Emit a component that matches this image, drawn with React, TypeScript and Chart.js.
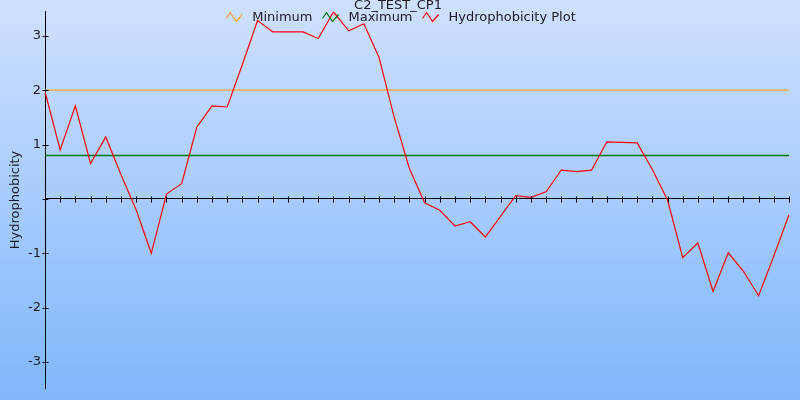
import React, { useEffect, useRef } from "react";
import { Chart, registerables } from "chart.js";

Chart.register(...registerables);

// ---- data ----
const chartTitle = "C2_TEST_CP1";
const yAxisTitle = "Hydrophobicity";

const positions = [
  "1", "2", "3", "4", "5", "6", "7", "8", "9", "10",
  "11", "12", "13", "14", "15", "16", "17", "18", "19", "20",
  "21", "22", "23", "24", "25", "26", "27", "28", "29", "30",
  "31", "32", "33", "34", "35", "36", "37", "38", "39", "40",
  "41", "42", "43", "44", "45", "46", "47", "48", "49", "50",
];

const hydrophobicity = [
  1.97, 0.9, 1.71, 0.65, 1.14, 0.45, -0.2, -1.0, 0.09, 0.28,
  1.32, 1.71, 1.69, 2.47, 3.28, 3.07, 3.07, 3.07, 2.95, 3.44,
  3.09, 3.22, 2.6, 1.5, 0.56, -0.07, -0.21, -0.5, -0.42, -0.7,
  -0.32, 0.06, 0.03, 0.13, 0.53, 0.5, 0.53, 1.05, 1.04, 1.03,
  0.54, -0.02, -1.08, -0.81, -1.7, -0.99, -1.33, -1.78, -1.05, -0.29,
];

const minimumLevel = 2.0;
const maximumLevel = 0.8;

const yTickValues = [-3, -2, -1, 0, 1, 2, 3];
const yMin = -3.48;
const yMax = 3.44;

const FONT = "'DejaVu Sans', Verdana, sans-serif";
const TEXT_COLOR = "#1c1c1c";

const backgroundPlugin = {
  id: "gradientBackground",
  beforeDraw(chart: any) {
    const { ctx, width, height } = chart;
    const g = ctx.createLinearGradient(0, 0, 0, height);
    g.addColorStop(0, "#cfe0ff");
    g.addColorStop(1, "#7fb7fa");
    ctx.save();
    ctx.fillStyle = g;
    ctx.fillRect(0, 0, width, height);
    ctx.restore();
  },
};

const crossTicksPlugin = {
  id: "crossTicks",
  afterDatasetsDraw(chart: any) {
    const xs = chart.scales.x;
    const ys = chart.scales.y;
    const ctx = chart.ctx;
    ctx.save();
    ctx.strokeStyle = "#000";
    ctx.lineWidth = 1;
    const y0 = Math.round(ys.getPixelForValue(0)) + 0.5;
    const x0 = Math.round(xs.left) + 0.5;
    ctx.beginPath();
    positions.forEach((_, i) => {
      const px = Math.round(xs.getPixelForValue(i)) + 0.5;
      ctx.moveTo(px, y0 - 3);
      ctx.lineTo(px, y0 + 3);
    });
    ys.ticks.forEach((t: any) => {
      const py = Math.round(ys.getPixelForValue(t.value)) + 0.5;
      ctx.moveTo(x0 - 3, py);
      ctx.lineTo(x0 + 3, py);
    });
    ctx.stroke();
    ctx.restore();
  },
};

const headerPlugin = {
  id: "headerLegend",
  afterDraw(chart: any) {
    const ctx = chart.ctx;
    ctx.save();
    ctx.fillStyle = TEXT_COLOR;
    ctx.font = `13px ${FONT}`;
    ctx.textAlign = "center";
    ctx.textBaseline = "middle";
    ctx.fillText(chartTitle, 398, 5.5);

    const items = chart.data.datasets.map((ds: any) => ({
      label: ds.label,
      color: ds.borderColor,
    }));
    const iconW = 16;
    const iconGap = 10;
    const itemGap = 10;
    const widths = items.map((it: any) => ctx.measureText(it.label).width);
    const total =
      widths.reduce((a: number, w: number) => a + iconW + iconGap + w, 0) +
      itemGap * (items.length - 1);
    let xx = 401 - total / 2;
    const cy = 17.5;
    items.forEach((it: any, i: number) => {
      ctx.strokeStyle = it.color;
      ctx.lineWidth = 1.2;
      ctx.beginPath();
      ctx.moveTo(xx, cy + 1);
      ctx.lineTo(xx + 4, cy - 5);
      ctx.lineTo(xx + 10, cy + 4);
      ctx.lineTo(xx + 16, cy - 3);
      ctx.stroke();
      ctx.textAlign = "left";
      ctx.fillStyle = TEXT_COLOR;
      ctx.fillText(it.label, xx + iconW + iconGap, cy);
      xx += iconW + iconGap + widths[i] + itemGap;
    });
    ctx.restore();
  },
};

export default function App() {
  const canvasRef = useRef<HTMLCanvasElement | null>(null);

  useEffect(() => {
    document.body.style.margin = "0";
    const canvas = canvasRef.current;
    if (!canvas) return;
    const chart = new Chart(canvas, {
      type: "line",
      data: {
        labels: positions,
        datasets: [
          {
            label: "Minimum",
            data: positions.map(() => minimumLevel),
            borderColor: "#f5a623",
            borderWidth: 1.2,
            pointRadius: 0,
            order: 2,
          },
          {
            label: "Maximum",
            data: positions.map(() => maximumLevel),
            borderColor: "#007a00",
            borderWidth: 1.5,
            pointRadius: 0,
            order: 1,
          },
          {
            label: "Hydrophobicity Plot",
            data: hydrophobicity,
            borderColor: "#ff0000",
            borderWidth: 1.2,
            pointRadius: 0,
            order: 0,
          },
        ],
      },
      options: {
        responsive: false,
        animation: false,
        layout: { padding: { top: 10, right: 11, bottom: 11, left: 0 } },
        plugins: {
          legend: { display: false },
          title: { display: false },
          tooltip: { enabled: false },
        },
        elements: { line: { tension: 0 } },
        scales: {
          x: {
            type: "category",
            position: { y: 0 } as any,
            offset: false,
            ticks: { display: false },
            grid: { drawOnChartArea: false, drawTicks: false },
            border: { color: "#000", width: 1 },
          },
          y: {
            type: "linear",
            min: yMin,
            max: yMax,
            afterFit: (s: any) => {
              s.width = 45;
            },
            afterBuildTicks: (s: any) => {
              s.ticks = yTickValues.map((v) => ({ value: v }));
            },
            ticks: {
              callback: (v: any) => (v === 0 ? "" : String(v)),
              font: { family: FONT, size: 13 },
              color: TEXT_COLOR,
              padding: 4,
            },
            grid: { drawOnChartArea: false, drawTicks: false },
            border: { color: "#000", width: 1 },
            title: {
              display: true,
              text: yAxisTitle,
              font: { family: FONT, size: 13 },
              color: TEXT_COLOR,
              padding: { top: 8, bottom: 0 },
            },
          },
        },
      } as any,
      plugins: [backgroundPlugin, crossTicksPlugin, headerPlugin],
    });
    return () => chart.destroy();
  }, []);

  return (
    <div style={{ width: 800, height: 400 }}>
      <canvas ref={canvasRef} width={800} height={400} style={{ display: "block" }} />
    </div>
  );
}
